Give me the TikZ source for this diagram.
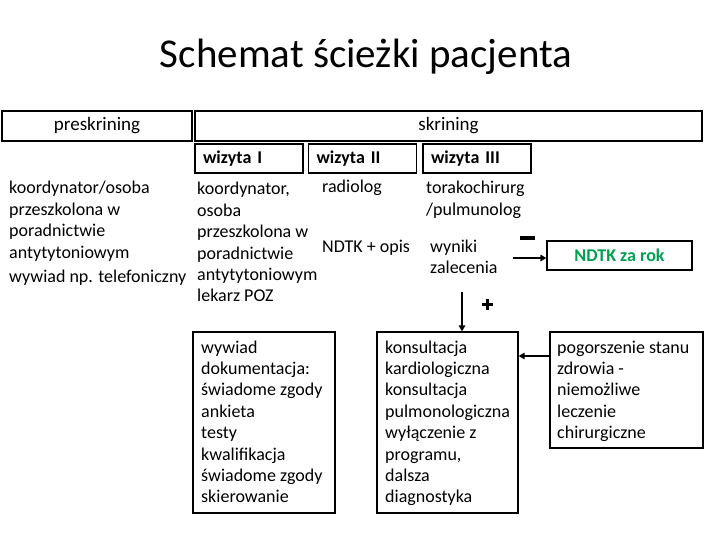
\documentclass[tikz,border=0pt]{standalone}
\usepackage{fontspec}
\setmainfont{Carlito}
\usetikzlibrary{arrows.meta,calc}
\definecolor{ndtkgreen}{RGB}{0,160,80}
\newcommand{\mylines}[1]{\begin{tabular}[t]{@{}l@{}}#1\end{tabular}}
\begin{document}
\begin{tikzpicture}[x=1pt,y=-1pt,
  box/.style={draw, line width=1.3pt, inner sep=0pt},
  hbox/.style={box, minimum height=30pt, font=\fontsize{19}{22}\selectfont},
  wbox/.style={draw, line width=1.3pt, minimum height=29pt, text width=92pt, inner xsep=8pt, inner ysep=0pt, align=left, font=\fontsize{18}{21.4}\selectfont\bfseries},
  txt/.style={anchor=base west, inner sep=0pt, font=\fontsize{18}{21.4}\selectfont},
  arr/.style={line width=1.8pt, -{Triangle[length=6pt,width=6.5pt]}},
  sign/.style={line width=3.8pt}]
\useasboundingbox (0,0) rectangle (720,540);
% title
\node[anchor=base, inner sep=0pt, font=\fontsize{41}{48}\selectfont] (title) at (366,68) {Schemat ścieżki pacjenta};
% header boxes
\node[hbox, minimum width=190pt] (pre) at (97,126) {preskrining};
\node[hbox, minimum width=507pt] (skr) at (448.5,126) {skrining};
\node[wbox] (w1) at (249,158.5) {wizyta I};
\node[wbox] (w2) at (362.5,158.5) {wizyta II};
\node[wbox] (w3) at (477,158.5) {wizyta III};
% column texts
\node[txt] (pretxt) at (9,194) {\mylines{koordynator/osoba\\przeszkolona w\\poradnictwie\\antytytoniowym}};
\node[txt] (pretel) at (9,282) {wywiad np. telefoniczny};
\node[txt] (w1txt) at (197,195) {\mylines{koordynator,\\osoba\\przeszkolona w\\poradnictwie\\antytytoniowym\\lekarz POZ}};
\node[txt] (w2a) at (322,193) {radiolog};
\node[txt] (w2b) at (322,252) {NDTK + opis};
\node[txt] (w3a) at (426,194) {\mylines{torakochirurg\\/pulmunolog}};
\node[txt] (w3b) at (430,252) {\mylines{wyniki\\zalecenia}};
% NDTK box
\node[box, minimum width=145pt, minimum height=29pt, font=\fontsize{18}{21.4}\selectfont\bfseries, text=ndtkgreen] (ndtk) at (619.5,255.5) {NDTK za rok};
% lower boxes
\node[box, minimum width=142pt, minimum height=181pt] (lbox) at (264,422.5) {};
\node[box, minimum width=141pt, minimum height=181pt] (mbox) at (447.5,422.5) {};
\node[box, minimum width=153pt, minimum height=116pt] (rbox) at (626.5,390) {};
\node[txt] (ltxt) at (201,353) {\mylines{wywiad\\dokumentacja:\\świadome zgody\\ankieta\\testy\\kwalifikacja\\świadome zgody\\skierowanie}};
\node[txt] (mtxt) at (385,353) {\mylines{konsultacja\\kardiologiczna\\konsultacja\\pulmonologiczna\\wyłączenie z\\programu,\\dalsza\\diagnostyka}};
\node[txt] (rtxt) at (557,353) {\mylines{pogorszenie stanu\\zdrowia -\\niemożliwe\\leczenie\\chirurgiczne}};
% connectors
\coordinate (h0) at (513,258);
\draw[arr] (h0) -- (h0 -| ndtk.west);
\coordinate (v0) at (462,292);
\draw[arr] (v0) -- (v0 |- mbox.north);
\coordinate (r0) at (600,356);
\draw[arr] (r0 -| rbox.west) -- (r0 -| mbox.east);
% signs
\coordinate (minus) at (527.5,238);
\draw[sign] ($(minus)+(-7.5,0)$) -- ($(minus)+(7.5,0)$);
\coordinate (plus) at (487.5,304.5);
\draw[sign] ($(plus)+(-5.5,0)$) -- ($(plus)+(5.5,0)$);
\draw[sign] ($(plus)+(0,-5.5)$) -- ($(plus)+(0,5.5)$);
\end{tikzpicture}
\end{document}
